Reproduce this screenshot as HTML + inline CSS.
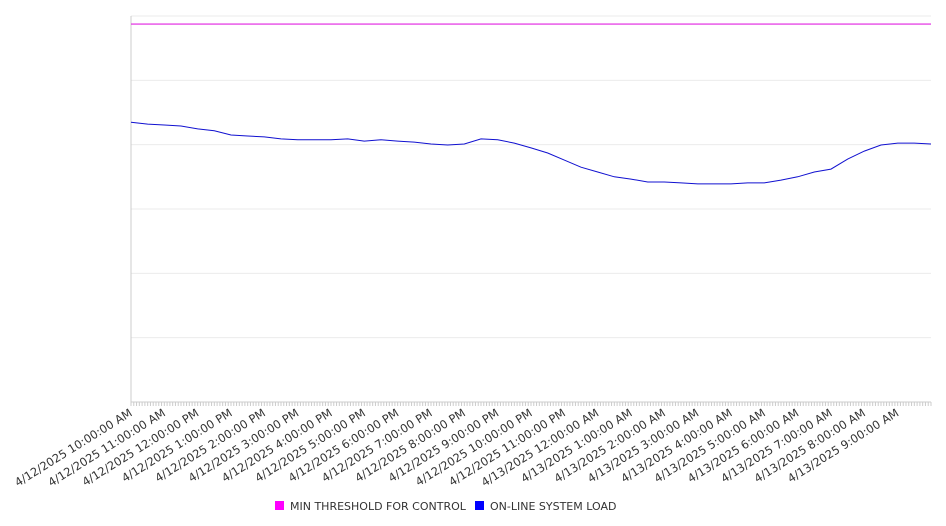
<!DOCTYPE html>
<html><head><meta charset="utf-8"><style>
html,body{margin:0;padding:0;background:#fff;}
svg{display:block;font-family:"DejaVu Sans","Liberation Sans",sans-serif;}
</style></head><body>
<svg id="chart" width="946" height="526"></svg>
<script>
const hourLabels=["4/12/2025 10:00:00 AM","4/12/2025 11:00:00 AM","4/12/2025 12:00:00 PM","4/12/2025 1:00:00 PM","4/12/2025 2:00:00 PM","4/12/2025 3:00:00 PM","4/12/2025 4:00:00 PM","4/12/2025 5:00:00 PM","4/12/2025 6:00:00 PM","4/12/2025 7:00:00 PM","4/12/2025 8:00:00 PM","4/12/2025 9:00:00 PM","4/12/2025 10:00:00 PM","4/12/2025 11:00:00 PM","4/13/2025 12:00:00 AM","4/13/2025 1:00:00 AM","4/13/2025 2:00:00 AM","4/13/2025 3:00:00 AM","4/13/2025 4:00:00 AM","4/13/2025 5:00:00 AM","4/13/2025 6:00:00 AM","4/13/2025 7:00:00 AM","4/13/2025 8:00:00 AM","4/13/2025 9:00:00 AM"];
const thresholdValue=117.5;
const loadValues=[87.0,86.4,86.1,85.8,84.9,84.3,83.0,82.7,82.4,81.8,81.5,81.5,81.5,81.8,81.1,81.5,81.1,80.8,80.2,79.9,80.2,81.8,81.5,80.5,79.0,77.4,75.2,73.0,71.5,70.0,69.3,68.4,68.4,68.1,67.8,67.8,67.8,68.1,68.1,69.0,70.0,71.5,72.4,75.5,78.0,79.9,80.5,80.5,80.2];
const yTicks=[0,20,40,60,80,100,120];
const X0=131,X1=931,Y0=402,Y1=16,HOURS=24,YMAX=120;
const xScale=h=>X0+(h/HOURS)*(X1-X0);
const yScale=v=>Y0-(v/YMAX)*(Y0-Y1);
const NS="http://www.w3.org/2000/svg";
const svg=document.getElementById('chart');
function mk(tag,attrs,parent){const e=document.createElementNS(NS,tag);for(const k in attrs)e.setAttribute(k,attrs[k]);(parent||svg).appendChild(e);return e;}
yTicks.forEach(t=>{
  const l=mk('line',{x1:X0,x2:X1,y1:yScale(t),y2:yScale(t),stroke:t===0?'#ccc':'#ebebeb','stroke-width':1});
  
  
});
const ax=mk('line',{x1:X0,x2:X0,y1:Y1,y2:Y0,stroke:'#ccc','stroke-width':1});


for(let i=0;i<=288;i++){
  const x=X0+i*(X1-X0)/288;
  const t=mk('line',{x1:x,x2:x,y1:Y0,y2:Y0+4,stroke:'#ccc','stroke-width':1});
  
  
}
hourLabels.forEach((s,i)=>{
  const x=xScale(i)+2,y=Y0+13;
  const t=mk('text',{x:x,y:y,'text-anchor':'end','font-size':'11.5',fill:'#333',transform:`rotate(-32 ${x} ${y})`});
  t.textContent=s;
  
  
});
const th=mk('line',{x1:X0,x2:X1,y1:yScale(thresholdValue),y2:yScale(thresholdValue),stroke:'#e020e0','stroke-width':1.2});


const step=HOURS/(loadValues.length-1);
const pts=loadValues.map((v,i)=>xScale(i*step).toFixed(1)+','+yScale(v).toFixed(1)).join(' ');
const ln=mk('polyline',{points:pts,fill:'none',stroke:'#1010d0','stroke-width':1});


const g=mk('g',{});


const s1=mk('rect',{x:275,y:501,width:9,height:9,fill:'#ff00ff'},g);


const t1=mk('text',{x:290,y:510,'font-size':'11',fill:'#333'},g);
t1.textContent='MIN THRESHOLD FOR CONTROL';


const s2=mk('rect',{x:475,y:501,width:9,height:9,fill:'#0000ff'},g);


const t2=mk('text',{x:490,y:510,'font-size':'11',fill:'#333'},g);
t2.textContent='ON-LINE SYSTEM LOAD';


</script>
</body></html>
